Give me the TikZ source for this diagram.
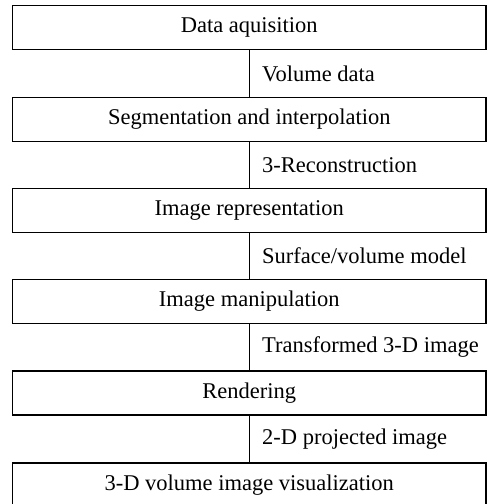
\documentclass[tikz,border=0pt]{standalone}
\usepackage{fontspec}
\setmainfont{Liberation Serif}
\begin{document}
\begin{tikzpicture}[x=1pt,y=-1pt,
  stage/.style={draw, line width=1.4pt, minimum width=473.5pt, minimum height=44pt,
    inner sep=0pt, font=\fontsize{22.5}{26}\selectfont},
  link/.style={line width=1.4pt},
  flowlabel/.style={anchor=west, inner sep=0pt, font=\fontsize{22.5}{26}\selectfont}]
\clip (0,0) rectangle (499,504);
\useasboundingbox (0,0) rectangle (499,504);
\node[stage] (s1) at (249.25,27.5) {Data aquisition};
\node[stage] (s2) at (249.25,119.5) {Segmentation and interpolation};
\node[stage] (s3) at (249.25,210.5) {Image representation};
\node[stage] (s4) at (249.25,301.5) {Image manipulation};
\node[stage] (s5) at (249.25,393) {Rendering};
\node[stage] (s6) at (249.25,485) {3-D volume image visualization};
\draw[link] (s1.south) -- (s2.north);
\draw[link] (s2.south) -- (s3.north);
\draw[link] (s3.south) -- (s4.north);
\draw[link] (s4.south) -- (s5.north);
\draw[link] (s5.south) -- (s6.north);
\node[flowlabel] (l1) at (262,74) {Volume data};
\node[flowlabel] (l2) at (262,165) {3-Reconstruction};
\node[flowlabel] (l3) at (262,256) {Surface/volume model};
\node[flowlabel] (l4) at (262,347.5) {Transformed 3-D image};
\node[flowlabel] (l5) at (262,439) {2-D projected image};
\end{tikzpicture}
\end{document}
